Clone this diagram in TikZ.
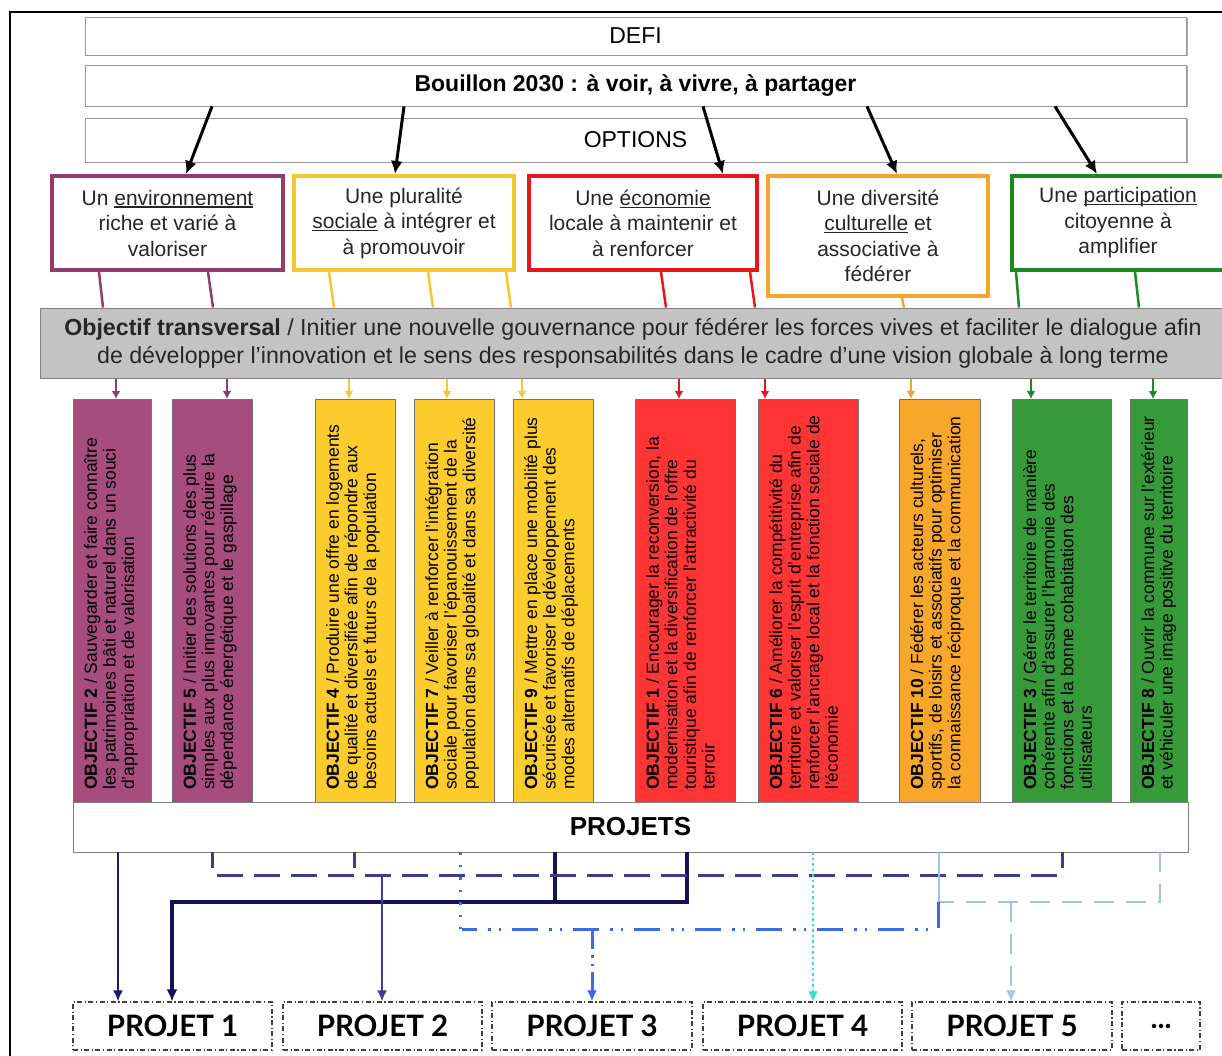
\documentclass[tikz,border=0pt]{standalone}
\usepackage{fontspec}
\setmainfont{Liberation Sans}
\newfontfamily\projfont{Lato}
\usetikzlibrary{arrows.meta,shadows}
\definecolor{cpur}{HTML}{923C6C}
\definecolor{cpurB}{HTML}{A64D7E}
\definecolor{cyel}{HTML}{F6C830}
\definecolor{cyelB}{HTML}{FCCB2C}
\definecolor{cred}{HTML}{E8161B}
\definecolor{credB}{HTML}{FF3535}
\definecolor{cora}{HTML}{F4A52A}
\definecolor{coraB}{HTML}{F9A72B}
\definecolor{cgre}{HTML}{1D8A1D}
\definecolor{cgreB}{HTML}{36993A}
\definecolor{cgray}{HTML}{C3C3C3}
\definecolor{navyA}{HTML}{1C1C6C}
\definecolor{navyB}{HTML}{121255}
\definecolor{slate}{HTML}{3D3D8D}
\definecolor{royal}{HTML}{3B6AE3}
\definecolor{cyanL}{HTML}{36D8D8}
\definecolor{skyL}{HTML}{9EC0EC}
\newcommand\myul[1]{\leavevmode\setbox0\hbox{#1}\rlap{\rule[-2.5pt]{\wd0}{1.1pt}}\box0\relax}
\newcommand\objbar[5]{%
  \node[objbox=#4, minimum width={#3-#2}, anchor=north west] (#1) at (#2,399) {};
  \node[bartext, anchor=north west] (#1t) at ({#2+11},790) {#5};
}
\begin{document}
\begin{tikzpicture}[x=1pt,y=-1pt,
  topbox/.style={draw=black!40, line width=0.8pt, fill=white, inner sep=0pt,
    font=\fontsize{23}{27}\selectfont,
    drop shadow={shadow xshift=1.5pt, shadow yshift=-1.5pt, fill=black!30, opacity=1}},
  optbox/.style={draw=#1, line width=4pt, fill=white, inner sep=0pt, align=center,
    font=\fontsize{21}{25.5}\selectfont, text=black!85},
  objbox/.style={draw=black!55, line width=0.7pt, fill=#1, inner sep=0pt, minimum height=403pt},
  bartext/.style={rotate=90, align=left, inner sep=0pt, font=\fontsize{17.5}{18.6}\selectfont, text=black},
  barr/.style={line width=3pt, -{Latex[length=13pt,width=12pt]}},
  oline/.style={line width=2.5pt, draw=#1},
  sarr/.style={line width=2.2pt, draw=#1, -{Latex[length=8pt,width=9pt]}},
  pbox/.style={draw=black!75, line width=1.1pt, dash pattern=on 5pt off 2.5pt on 1.2pt off 2.5pt,
    inner sep=0pt, minimum height=48pt, font=\projfont\bfseries\fontsize{29.5}{32}\selectfont},
  cA/.style={line width=2pt, draw=navyA, -{Latex[length=11pt,width=10pt]}},
  cB/.style={line width=3.5pt, draw=navyB},
  cC/.style={line width=3pt, draw=slate},
  cD/.style={line width=3pt, draw=royal, dash pattern=on 26pt off 11pt on 2.5pt off 8pt on 2.5pt off 11pt},
  cE/.style={line width=2.5pt, draw=cyanL, dash pattern=on 2.5pt off 3pt},
  cF/.style={line width=2.5pt, draw=skyL, dash pattern=on 20pt off 12pt}
]
\useasboundingbox (0,0) rectangle (1222,1056);
\clip (0,0) rectangle (1222,1056);
\fill[white] (0,0) rectangle (1222,1056);
% frame
\draw[line width=2.5pt] (10,1060) -- (10,12) -- (1230,12);
% top boxes
\node[topbox, minimum width=1101pt, minimum height=38pt] (defi) at (635.5,36) {DEFI};
\node[topbox, minimum width=1101pt, minimum height=41pt, font=\bfseries\fontsize{23}{27}\selectfont] (bou) at (635.5,85.5) {Bouillon 2030 : à voir, à vivre, à partager};
\node[topbox, minimum width=1101pt, minimum height=44pt] (opts) at (635.5,140) {OPTIONS};
% option boxes
\node[optbox=cpur, minimum width=231pt, minimum height=94pt] (o1) at (167.5,223) {Un \myul{environnement}\\riche et varié à\\valoriser};
\node[optbox=cyel, minimum width=220pt, minimum height=94pt] (o2) at (404,223) {Une pluralité\\\myul{sociale} à intégrer et\\à promouvoir};
\node[optbox=cred, minimum width=228pt, minimum height=94pt] (o3) at (643,223) {Une \myul{économie}\\locale à maintenir et\\à renforcer};
\node[optbox=cora, minimum width=220pt, minimum height=120pt] (o4) at (878,236) {Une diversité\\\myul{culturelle} et\\associative à\\fédérer};
\node[optbox=cgre, minimum width=212pt, minimum height=94pt] (o5) at (1118,223) {Une \myul{participation}\\citoyenne à\\amplifier};
% black arrows
\draw[barr] (212,0 |- bou.south) -- (186,0 |- o1.north);
\draw[barr] (404,0 |- bou.south) -- (395,0 |- o2.north);
\draw[barr] (703,0 |- bou.south) -- (723,0 |- o3.north);
\draw[barr] (867,0 |- bou.south) -- (897,0 |- o4.north);
\draw[barr] (1055,0 |- bou.south) -- (1097,0 |- o5.north);
% transversal box
\node[draw=black!50, line width=1pt, fill=cgray, minimum width=1186pt, minimum height=70pt, inner sep=0pt,
  align=center, font=\fontsize{23.2}{28}\selectfont, text=black!85] (tr) at (633,343)
  {\textbf{Objectif transversal} / Initier une nouvelle gouvernance pour fédérer les forces vives et faciliter le dialogue afin\\de développer l’innovation et le sens des responsabilités dans le cadre d'une vision globale à long terme};
% lines option -> transversal
\draw[oline=cpur] (99,0 |- o1.south) -- (103,0 |- tr.north);
\draw[oline=cpur] (208,0 |- o1.south) -- (213,0 |- tr.north);
\draw[oline=cyel] (329,0 |- o2.south) -- (334,0 |- tr.north);
\draw[oline=cyel] (428,0 |- o2.south) -- (433,0 |- tr.north);
\draw[oline=cyel] (506,0 |- o2.south) -- (511,0 |- tr.north);
\draw[oline=cred] (661,0 |- o3.south) -- (666,0 |- tr.north);
\draw[oline=cred] (750,0 |- o3.south) -- (755,0 |- tr.north);
\draw[oline=cora] (902,0 |- o4.south) -- (904,0 |- tr.north);
\draw[oline=cgre] (1016,0 |- o5.south) -- (1019,0 |- tr.north);
\draw[oline=cgre] (1135,0 |- o5.south) -- (1139,0 |- tr.north);
% objective bars
\objbar{b2}{73}{151}{cpurB}{\textbf{OBJECTIF 2} / Sauvegarder et faire connaître\\les patrimoines bâti et naturel dans un souci\\d'appropriation et de valorisation}
\objbar{b5}{172}{252}{cpurB}{\textbf{OBJECTIF 5} / Initier des solutions des plus\\simples aux plus innovantes pour réduire la\\dépendance énergétique et le gaspillage}
\objbar{b4}{315}{395}{cyelB}{\textbf{OBJECTIF 4} / Produire une offre en logements\\de qualité et diversifiée afin de répondre aux\\besoins actuels et futurs de la population}
\objbar{b7}{414}{494}{cyelB}{\textbf{OBJECTIF 7} / Veiller à renforcer l'intégration\\sociale pour favoriser l'épanouissement de la\\population dans sa globalité et dans sa diversité}
\objbar{b9}{513}{593}{cyelB}{\textbf{OBJECTIF 9} / Mettre en place une mobilité plus\\sécurisée et favoriser le développement des\\modes alternatifs de déplacements}
\objbar{b1}{635}{735}{credB}{\textbf{OBJECTIF 1} / Encourager la reconversion, la\\modernisation et la diversification de l'offre\\touristique afin de renforcer l'attractivité du\\terroir}
\objbar{b6}{758}{858}{credB}{\textbf{OBJECTIF 6} / Améliorer la compétitivité du\\territoire et valoriser l'esprit d'entreprise afin de\\renforcer l'ancrage local et la fonction sociale de\\l'économie}
\objbar{b10}{899}{980}{coraB}{\textbf{OBJECTIF 10} / Fédérer les acteurs culturels,\\sportifs, de loisirs et associatifs pour optimiser\\la connaissance réciproque et la communication}
\objbar{b3}{1012}{1111}{cgreB}{\textbf{OBJECTIF 3} / Gérer le territoire de manière\\cohérente afin d'assurer l'harmonie des\\fonctions et la bonne cohabitation des\\utilisateurs}
\objbar{b8}{1130}{1187}{cgreB}{\textbf{OBJECTIF 8} / Ouvrir la commune sur l'extérieur\\et véhiculer une image positive du territoire}
% small arrows transversal -> bars
\draw[sarr=cpur] (116,0 |- tr.south) -- (116,0 |- b2.north);
\draw[sarr=cpur] (227,0 |- tr.south) -- (227,0 |- b5.north);
\draw[sarr=cyel] (349,0 |- tr.south) -- (349,0 |- b4.north);
\draw[sarr=cyel] (447,0 |- tr.south) -- (447,0 |- b7.north);
\draw[sarr=cyel] (522,0 |- tr.south) -- (522,0 |- b9.north);
\draw[sarr=cred] (679,0 |- tr.south) -- (679,0 |- b1.north);
\draw[sarr=cred] (765,0 |- tr.south) -- (765,0 |- b6.north);
\draw[sarr=cora] (911,0 |- tr.south) -- (911,0 |- b10.north);
\draw[sarr=cgre] (1031,0 |- tr.south) -- (1031,0 |- b3.north);
\draw[sarr=cgre] (1153,0 |- tr.south) -- (1153,0 |- b8.north);
% PROJETS
\node[draw=black!50, line width=0.8pt, fill=white, minimum width=1115pt, minimum height=50pt, inner sep=0pt,
  font=\bfseries\fontsize{26}{30}\selectfont] (pj) at (630.5,827) {PROJETS};
% projet boxes
\node[pbox, minimum width=199pt] (p1) at (172.5,1026) {PROJET 1};
\node[pbox, minimum width=199pt] (p2) at (382.5,1026) {PROJET 2};
\node[pbox, minimum width=200pt] (p3) at (592,1026) {PROJET 3};
\node[pbox, minimum width=199pt] (p4) at (802.5,1026) {PROJET 4};
\node[pbox, minimum width=200pt] (p5) at (1012,1026) {PROJET 5};
\node[pbox, minimum width=78pt] (p6) at (1161,1026) {...};
% connectors
\draw[cA] (118,0 |- pj.south) -- (118,0 |- p1.north);
\draw[cB] (555,0 |- pj.south) -- (555,902);
\draw[cB, -{Latex[length=12pt,width=11pt]}] (687,0 |- pj.south) -- (687,902) -- (172,902) -- (172,0 |- p1.north);
\draw[cC] (212,0 |- pj.south) -- (212,868);
\draw[cC] (354,0 |- pj.south) -- (354,868);
\draw[cC] (1062,0 |- pj.south) -- (1062,868);
\draw[cC, dash pattern=on 26pt off 11pt] (217,875) -- (1060,875);
\draw[line width=2pt, draw=slate, -{Latex[length=11pt,width=10pt]}] (382,875) -- (382,0 |- p2.north);
\draw[cF] (1160,0 |- pj.south) -- (1160,902) -- (939,902);
\draw[line width=2pt, draw=skyL] (939,0 |- pj.south) -- (939,902);
\draw[cF, -{Latex[length=11pt,width=10pt,open]}] (1011,902) -- (1011,0 |- p5.north);
\draw[cD] (938,902) -- (938,929) -- (462,929);
\draw[line width=3pt, draw=royal, dash pattern=on 2.5pt off 10pt] (460,0 |- pj.south) -- (460,929);
\draw[line width=3pt, draw=royal, dash pattern=on 20pt off 6pt on 2.5pt off 6pt on 2.5pt off 6pt, -{Latex[length=11pt,width=10pt]}] (592,929) -- (592,0 |- p3.north);
\draw[cE, -{Latex[length=10pt,width=10pt]}] (813,0 |- pj.south) -- (813,0 |- p4.north);
\end{tikzpicture}
\end{document}
